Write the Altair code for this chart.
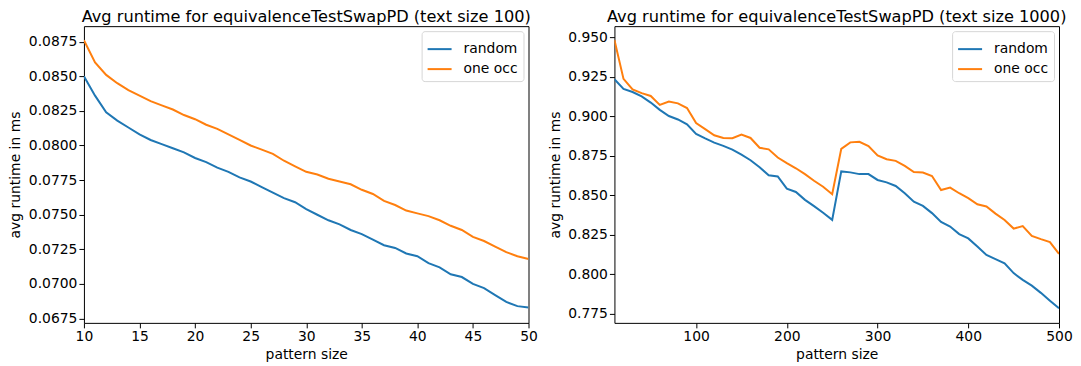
import altair as alt
import pandas as pd

series_names = ["random", "one occ"]
series_colors = ["#1f77b4", "#ff7f0e"]

# ---- text size 100 ----
size_100 = list(range(10, 51))
random_100 = [0.0850, 0.0836, 0.0824, 0.0818, 0.0813, 0.0808, 0.0804, 0.0801, 0.0798, 0.0795,
              0.0791, 0.0788, 0.0784, 0.0781, 0.0777, 0.0774, 0.0770, 0.0766, 0.0762, 0.0759,
              0.0754, 0.0750, 0.0746, 0.0743, 0.0739, 0.0736, 0.0732, 0.0728, 0.0726, 0.0722,
              0.0720, 0.0715, 0.0712, 0.0707, 0.0705, 0.0700, 0.0697, 0.0692, 0.0687, 0.0684,
              0.0683]
oneocc_100 = [0.0876, 0.0860, 0.0851, 0.0845, 0.0840, 0.0836, 0.0832, 0.0829, 0.0826, 0.0822,
              0.0819, 0.0815, 0.0812, 0.0808, 0.0804, 0.0800, 0.0797, 0.0794, 0.0789, 0.0785,
              0.0781, 0.0779, 0.0776, 0.0774, 0.0772, 0.0768, 0.0765, 0.0760, 0.0757, 0.0753,
              0.0751, 0.0749, 0.0746, 0.0742, 0.0739, 0.0734, 0.0731, 0.0727, 0.0723, 0.0720,
              0.0718]

# ---- text size 1000 ----
size_1000 = list(range(10, 501, 10))
random_1000 = [0.9236, 0.9175, 0.9155, 0.9127, 0.9088, 0.9042, 0.9003, 0.8981, 0.8950, 0.8890,
               0.8861, 0.8834, 0.8814, 0.8790, 0.8758, 0.8723, 0.8678, 0.8628, 0.8620, 0.8543,
               0.8522, 0.8472, 0.8432, 0.8390, 0.8345, 0.8652, 0.8646, 0.8635, 0.8635, 0.8598,
               0.8583, 0.8560, 0.8514, 0.8460, 0.8434, 0.8388, 0.8332, 0.8303, 0.8255, 0.8228,
               0.8176, 0.8123, 0.8097, 0.8070, 0.8008, 0.7965, 0.7929, 0.7883, 0.7833, 0.7785]
oneocc_1000 = [0.9485, 0.9238, 0.9172, 0.9148, 0.9130, 0.9073, 0.9095, 0.9083, 0.9053, 0.8958,
               0.8920, 0.8881, 0.8864, 0.8862, 0.8886, 0.8864, 0.8802, 0.8792, 0.8740, 0.8705,
               0.8672, 0.8635, 0.8593, 0.8555, 0.8508, 0.8795, 0.8836, 0.8840, 0.8813, 0.8753,
               0.8729, 0.8719, 0.8687, 0.8648, 0.8645, 0.8623, 0.8534, 0.8550, 0.8514, 0.8483,
               0.8444, 0.8430, 0.8385, 0.8345, 0.8290, 0.8306, 0.8244, 0.8223, 0.8205, 0.8130]

# axis ticks
xticks_100 = [10, 15, 20, 25, 30, 35, 40, 45, 50]
yticks_100 = [0.0675, 0.0700, 0.0725, 0.0750, 0.0775, 0.0800, 0.0825, 0.0850, 0.0875]
xticks_1000 = [100, 200, 300, 400, 500]
yticks_1000 = [0.775, 0.800, 0.825, 0.850, 0.875, 0.900, 0.925, 0.950]

FONT = "DejaVu Sans"


def make_df(x, a, b):
    n = len(x)
    return pd.DataFrame({
        "size": list(x) + list(x),
        "avg": list(a) + list(b),
        "series": [series_names[0]] * n + [series_names[1]] * n,
    })


def panel(df, title, xdom, xticks, ydom, yticks, yfmt):
    return alt.Chart(df, title=alt.Title(title, fontSize=16.2, fontWeight="normal", font=FONT,
                                         color="black", anchor="middle", offset=1)).mark_line(
        strokeWidth=2, clip=True
    ).encode(
        x=alt.X("size:Q", scale=alt.Scale(domain=xdom, nice=False, zero=False),
                axis=alt.Axis(values=xticks, format="d", title="pattern size")),
        y=alt.Y("avg:Q", scale=alt.Scale(domain=ydom, nice=False, zero=False),
                axis=alt.Axis(values=yticks, format=yfmt, title="avg runtime in ms",
                              titlePadding=5.5)),
        color=alt.Color("series:N", scale=alt.Scale(domain=series_names, range=series_colors),
                        legend=alt.Legend(title=None, orient="top-right", offset=5,
                                          symbolType="stroke", symbolStrokeWidth=2,
                                          symbolSize=576, labelFontSize=13.9, labelFont=FONT,
                                          labelColor="black", padding=5, rowPadding=-10,
                                          strokeColor="#d6d6d6", fillColor="white",
                                          cornerRadius=3, labelOffset=11)),
    ).properties(width=445, height=297)


left = panel(make_df(size_100, random_100, oneocc_100),
             "Avg runtime for equivalenceTestSwapPD (text size 100)",
             [10, 50], xticks_100, [0.06719, 0.08862], yticks_100, ".4f")
right = panel(make_df(size_1000, random_1000, oneocc_1000),
              "Avg runtime for equivalenceTestSwapPD (text size 1000)",
              [10, 500], xticks_1000, [0.7693, 0.9572], yticks_1000, ".3f")

chart = alt.hconcat(left, right, spacing=86, bounds="flush").resolve_scale(
    color="independent"
).resolve_legend(
    color="independent"
).properties(
    padding={"left": 0, "top": 0, "right": 0, "bottom": 0}
).configure_view(
    stroke="black", strokeWidth=1
).configure_axis(
    domain=False, grid=False, tickColor="black", tickSize=5, tickWidth=1,
    labelFont=FONT, labelFontSize=13.9, labelColor="black", labelPadding=2,
    titleFont=FONT, titleFontSize=13.9, titleColor="black", titleFontWeight="normal",
    titlePadding=4, labelFlush=False, labelOverlap=False
)

chart.save("out.html", embed_options={"renderer": "svg", "actions": False})
